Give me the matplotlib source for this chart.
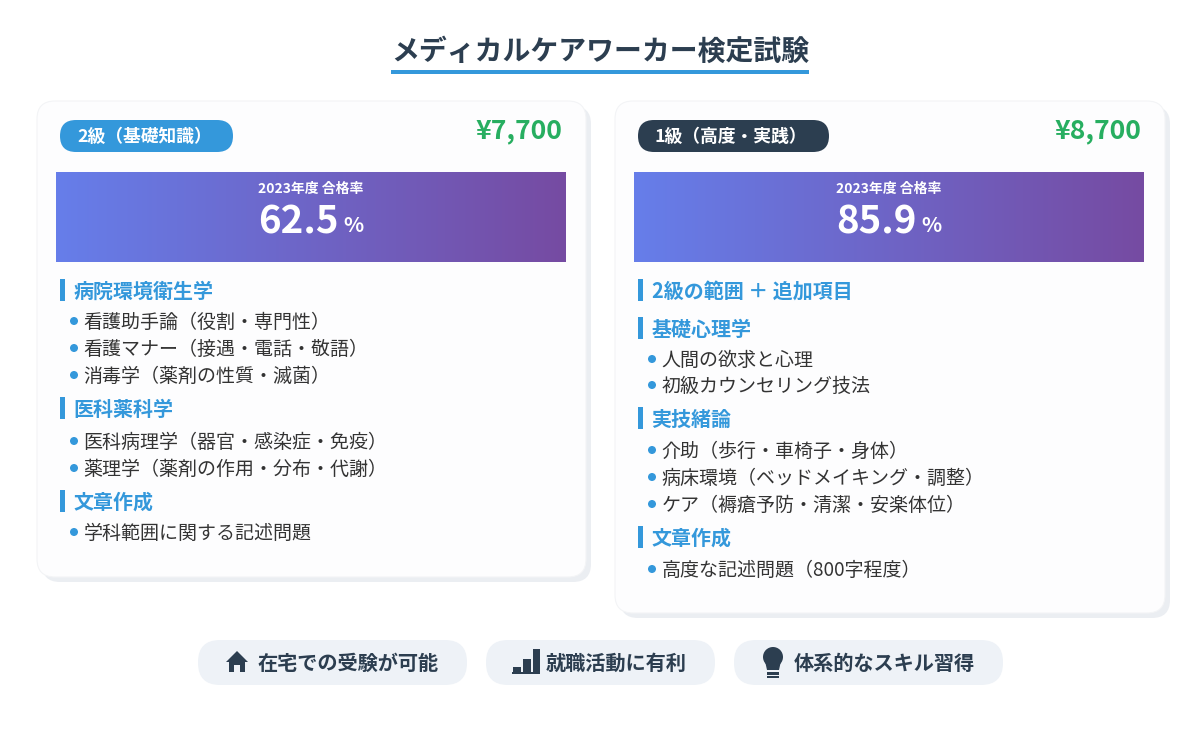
import numpy as np
import matplotlib
matplotlib.use("Agg")
import matplotlib.pyplot as plt
from matplotlib.patches import FancyBboxPatch, Rectangle, Circle, Polygon
from matplotlib.colors import LinearSegmentedColormap

plt.rcParams['font.family'] = ['Noto Sans CJK JP', 'DejaVu Sans']

TITLE = "メディカルケアワーカー検定試験"
LEVELS = ["2級（基礎知識）", "1級（高度・実践）"]
PRICES = ["¥7,700", "¥8,700"]
RATE_LABEL = "2023年度 合格率"
RATES = ["62.5", "85.9"]
SECTIONS_L = [
    ("病院環境衛生学", ["看護助手論（役割・専門性）", "看護マナー（接遇・電話・敬語）", "消毒学（薬剤の性質・滅菌）"]),
    ("医科薬科学", ["医科病理学（器官・感染症・免疫）", "薬理学（薬剤の作用・分布・代謝）"]),
    ("文章作成", ["学科範囲に関する記述問題"]),
]
SECTIONS_R = [
    ("2級の範囲 ＋ 追加項目", []),
    ("基礎心理学", ["人間の欲求と心理", "初級カウンセリング技法"]),
    ("実技緒論", ["介助（歩行・車椅子・身体）", "病床環境（ベッドメイキング・調整）", "ケア（褥瘡予防・清潔・安楽体位）"]),
    ("文章作成", ["高度な記述問題（800字程度）"]),
]
BENEFITS = ["在宅での受験が可能", "就職活動に有利", "体系的なスキル習得"]

BLUE, NAVY, GREEN = "#3498db", "#2c3e50", "#27ae60"
GRAD = LinearSegmentedColormap.from_list("g", ["#667eea", "#764ba2"])

fig = plt.figure(figsize=(12, 7.34), dpi=100, facecolor="white")
ax = fig.add_axes([0, 0, 1, 1])
ax.set_xlim(0, 1200)
ax.set_ylim(734, 0)
ax.axis("off")


def px(size):
    return size * 0.72


def rbox(x0, y0, x1, y1, r, fc, ec="none", lw=0, z=1):
    ax.add_patch(FancyBboxPatch((x0 + r, y0 + r), x1 - x0 - 2 * r, y1 - y0 - 2 * r,
                                boxstyle=f"round,pad={r},rounding_size={r}",
                                fc=fc, ec=ec, lw=lw, zorder=z, mutation_aspect=1))


def text(x, y, s, size, color, weight="normal", ha="left"):
    ax.text(x, y, s, fontsize=px(size), color=color, fontweight=weight,
            ha=ha, va="center", zorder=6)


text(600, 52, TITLE, 27.9, NAVY, "bold", "center")
ax.add_patch(Rectangle((391, 70), 418, 4, fc=BLUE, ec="none", zorder=3))


def card(x0, x1, y1, level, price, rate, pill_color, pill_w, sections, ys):
    rbox(x0 + 5, 106, x1 + 5, y1 + 5, 18, "#ebeef2", z=1)
    rbox(x0, 101, x1, y1, 18, "#fdfdfe", ec="#f3f4f6", lw=0.8, z=2)
    rbox(x0 + 23, 120, x0 + 23 + pill_w, 152, 16, pill_color, z=3)
    text(x0 + 40, 136.5, level, 17.8, "white", "bold")
    text(x1 - 24, 130.5, price, 26.5, GREEN, "bold", "right")
    gx0 = x0 + 19
    gx1 = gx0 + 510
    ax.imshow(np.linspace(0, 1, 256).reshape(1, -1), cmap=GRAD, aspect="auto",
              extent=(gx0, gx1, 262, 172), zorder=3)
    cx = (gx0 + gx1) / 2
    text(cx, 189, RATE_LABEL, 13.9, "white", "bold", "center")
    text(cx - 12.5, 222, rate, 38.5, "white", "bold", "center")
    text(cx + 42, 226, "%", 21, "white", "bold", "center")
    for (head, items), (hy, iys) in zip(sections, ys):
        ax.add_patch(Rectangle((x0 + 23, hy - 11), 5, 22, fc=BLUE, ec="none", zorder=4))
        text(x0 + 36.5, hy + 1, head, 20, BLUE, "bold")
        for item, iy in zip(items, iys):
            ax.add_patch(Circle((x0 + 37, iy), 4, fc=BLUE, ec="none", zorder=4))
            text(x0 + 46.5, iy + 1, item, 19, "#333333")


card(37, 586, 577, LEVELS[0], PRICES[0], RATES[0], BLUE, 173, SECTIONS_L,
     [(290, [321, 348, 375]), (408, [441, 468]), (501, [532])])
card(615, 1165, 613, LEVELS[1], PRICES[1], RATES[1], NAVY, 191, SECTIONS_R,
     [(290, []), (328, [359, 385]), (418, [450, 477, 504]), (537, [569])])

# benefit pills
pills = [(198, 467, 258), (486, 715, 546), (734, 1003, 794)]
for (a, b, tx), s in zip(pills, BENEFITS):
    rbox(a, 640, b, 685, 22, "#eef2f7", z=2)
    text(tx, 663, s, 20.2, NAVY, "bold")

# house icon
ax.add_patch(Polygon([(237, 651), (248, 662), (245, 662), (245, 672), (240, 672), (240, 665),
                      (234, 665), (234, 672), (229, 672), (229, 662), (226, 662)],
                     fc=NAVY, ec="none", zorder=5))
# bars icon
for x, top, w in [(513, 667, 8), (523, 659, 8), (533, 649, 7)]:
    ax.add_patch(Rectangle((x, top), w, 673 - top, fc=NAVY, ec="none", zorder=5))
ax.add_patch(Rectangle((512, 672), 28, 1.5, fc=NAVY, ec="none", zorder=5))
# bulb icon
ax.add_patch(Circle((773, 657), 10, fc=NAVY, ec="none", zorder=5))
ax.add_patch(Polygon([(765, 661), (781, 661), (779, 670), (767, 670)], fc=NAVY, ec="none", zorder=5))
for y, h in [(672, 2.5), (675.5, 2.5)]:
    ax.add_patch(Rectangle((767, y), 12, h, fc=NAVY, ec="none", zorder=5))

fig.savefig("out.png", dpi=100, facecolor="white")
